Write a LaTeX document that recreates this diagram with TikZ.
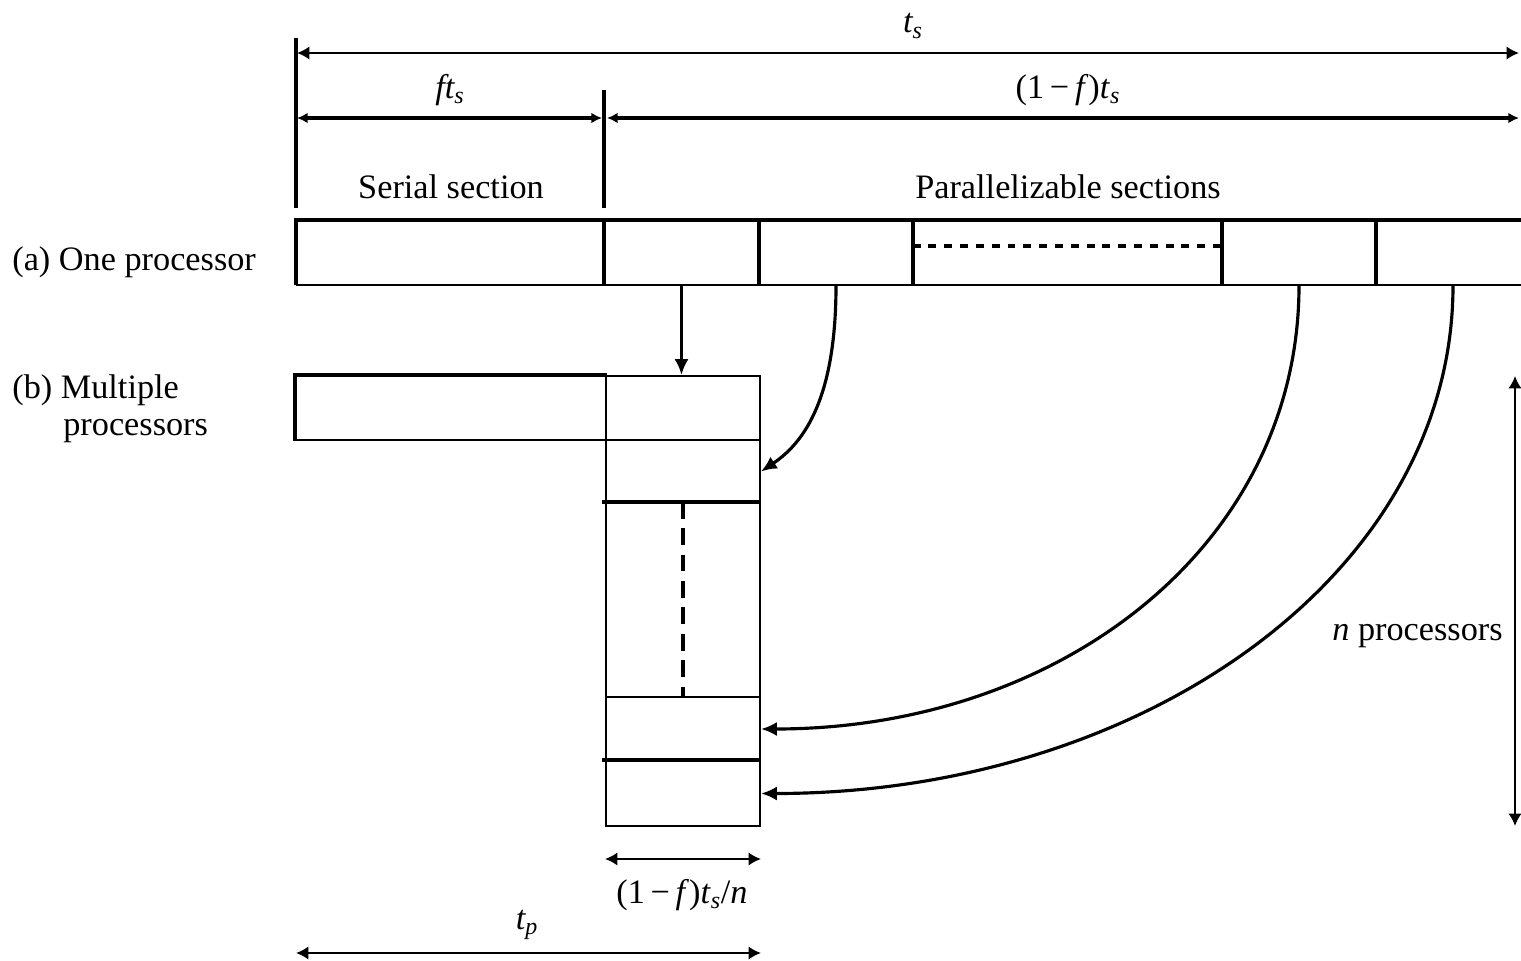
\documentclass[tikz,border=0pt]{standalone}
\usepackage{fontspec}
\setmainfont{Liberation Serif}
\usetikzlibrary{arrows.meta,fit}
\begin{document}
\begin{tikzpicture}[x=0.02cm,y=-0.02cm,
  thinl/.style={line width=1.1pt},
  thickl/.style={line width=2.3pt},
  cell/.style={draw,thinl,inner sep=0pt},
  slot/.style={inner sep=0pt},
  dimthin/.style={line width=1.1pt,{Latex[length=7pt,width=7.5pt]}-{Latex[length=7pt,width=7.5pt]}},
  dimthick/.style={line width=2.3pt,{Latex[length=6pt,width=6pt]}-{Latex[length=6pt,width=6pt]}},
  lbl/.style={font=\fontsize{19.5}{23}\selectfont,inner sep=0pt},
  flow/.style={line width=1.8pt,-{Latex[length=9pt,width=8pt]}}
]
\useasboundingbox (0,0) rectangle (1521,960);

% ---- row (a): one processor
\node[slot,fit={(296,220) (604,285)}] (a1) {};
\node[slot,fit={(604,220) (759,285)}] (a2) {};
\node[slot,fit={(759,220) (913,285)}] (a3) {};
\node[slot,fit={(913,220) (1222,285)}] (a4) {};
\node[slot,fit={(1222,220) (1376,285)}] (a5) {};
\node[slot,fit={(1376,220) (1530,285)}] (a6) {};
\draw[thinl] (a1.south west) -- (a6.south east);
\draw[thickl] (a1.south west) -- (a1.north west) -- (a6.north east);
\foreach \c in {a2,a3,a4,a5,a6}{
  \draw[thickl] (\c.north west) -- (\c.south west);
}
\draw[line width=2.3pt,dash pattern=on 4.5pt off 4.5pt] ([yshift=-0.52cm]a4.north west) -- ([yshift=-0.52cm]a4.north east);

% ---- row (b): multiple processors
\node[cell,fit={(296,376) (606,440)}] (b0) {};
\draw[thickl] (b0.south west) -- (b0.north west) -- (b0.north east);
\node[cell,fit={(606,376) (760,440)}] (c1) {};
\node[cell,fit={(606,440) (760,503)}] (c2) {};
\node[cell,fit={(606,503) (760,697)}] (c3) {};
\node[cell,fit={(606,697) (760,761)}] (c4) {};
\node[cell,fit={(606,761) (760,826)}] (c5) {};
\draw[thickl] ([xshift=-2pt]c3.north west) -- (c3.north east);
\draw[thickl] ([xshift=-2pt]c5.north west) -- (c5.north east);
\draw[line width=2.3pt,dash pattern=on 9.5pt off 5.5pt] (c3.north) -- (c3.south);

% ---- flow arrows
\draw[flow] (a2.south) -- (a2.south |- c1.north);
\draw[flow] (a3.south) .. controls +(0,110) and +(45,-30) .. (c2.east);
\draw[flow] (a5.south) .. controls +(0,260) and +(300,0) .. (c4.east);
\draw[flow] (a6.south) .. controls +(0,290) and +(380,0) .. (c5.east);

% ---- extension lines
\coordinate (e1) at (296,38);
\coordinate (e1b) at (296,208);
\coordinate (e2) at (604,90);
\coordinate (e2b) at (604,208);
\draw[thickl] (e1) -- (e1b);
\draw[thickl] (e2) -- (e2b);

% ---- dimension lines
\coordinate (ts1) at (297,53);
\coordinate (ts2) at (1519,53);
\draw[dimthin] (ts1) -- (ts2);
\coordinate (f1) at (297,118);
\coordinate (f2) at (602,118);
\draw[dimthick] (f1) -- (f2);
\coordinate (g1) at (607,118);
\coordinate (g2) at (1519,118);
\draw[dimthick] (g1) -- (g2);
\coordinate (n1) at (1515,376);
\coordinate (n2) at (1515,826);
\draw[dimthin] (n1) -- (n2);
\coordinate (w1) at (c5.south west |- 0,859);
\coordinate (w2) at (c5.south east |- 0,859);
\draw[dimthin] (w1) -- (w2);
\coordinate (p1) at (296,953);
\coordinate (p2) at (c5.south east |- 0,953);
\draw[dimthin] (p1) -- (p2);

% ---- labels
\node[lbl] (lts) at (913,26) {\itshape t\textsubscript{s}};
\node[lbl] (lfts) at (450,90) {\itshape ft\textsubscript{s}};
\node[lbl] (lgts) at (1068,90) {(1\,−\,\textit{f})\textit{t}\textsubscript{\itshape s}};
\node[lbl] (lser) at (451,187) {Serial section};
\node[lbl] (lpar) at (1068,187) {Parallelizable sections};
\node[lbl,anchor=west] (la) at (12,262) {(a) One processor};
\node[lbl,anchor=west] (lb) at (12,390) {(b) Multiple};
\node[lbl,anchor=west] (lb2) at (63,431) {processors};
\node[lbl,anchor=east] (ln) at (1503,636) {\textit{n} processors};
\node[lbl] (lw) at (682,895) {(1\,−\,\textit{f})\textit{t}\textsubscript{\itshape s}/\textit{n}};
\node[lbl] (ltp) at (527,925) {\itshape t\textsubscript{p}};
\end{tikzpicture}
\end{document}
